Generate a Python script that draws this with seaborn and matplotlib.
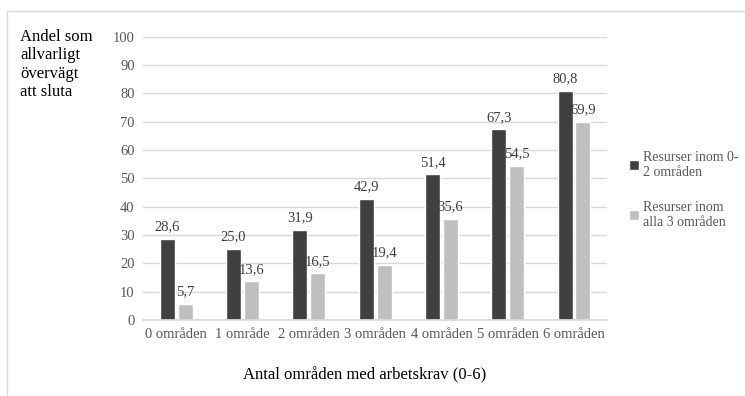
import matplotlib
matplotlib.use("Agg")
import matplotlib.pyplot as plt
import seaborn as sns
import pandas as pd
from matplotlib.patches import Rectangle

categories = ["0 områden", "1 område", "2 områden", "3 områden",
              "4 områden", "5 områden", "6 områden"]
series_names = ["Resurser inom 0-\n2 områden", "Resurser inom\nalla 3 områden"]
resurser_0_2 = [28.6, 25.0, 31.9, 42.9, 51.4, 67.3, 80.8]
resurser_alla_3 = [5.7, 13.6, 16.5, 19.4, 35.6, 54.5, 69.9]
y_ticks = [0, 10, 20, 30, 40, 50, 60, 70, 80, 90, 100]

df = pd.DataFrame({
    "kategori": categories * 2,
    "serie": [series_names[0]] * len(categories) + [series_names[1]] * len(categories),
    "andel": resurser_0_2 + resurser_alla_3,
})

sns.set_theme(style="white")
plt.rcParams["font.family"] = ["Liberation Serif", "DejaVu Serif"]

fig = plt.figure(figsize=(7.45, 3.96), dpi=100)
ax = fig.add_axes([0.192, 0.192, 0.623, 0.715])

# outer chart frame
fig.patches.append(Rectangle((7 / 745, -0.05), 1.1, 0.05 + 1 - 11 / 396,
                             transform=fig.transFigure, fill=False,
                             edgecolor="#d9d9d9", linewidth=1.0))

palette = {series_names[0]: "#404040", series_names[1]: "#bfbfbf"}
sns.barplot(data=df, x="kategori", y="andel", hue="serie", palette=palette,
            width=0.54, gap=0.16, ax=ax, saturation=1, legend=True)

for container in ax.containers:
    vals = container.datavalues
    ax.bar_label(container, labels=[f"{v:.1f}".replace(".", ",") for v in vals],
                 padding=4, fontsize=10.5, color="#404040")

ax.set_ylim(0, 100)
ax.set_yticks(y_ticks)
ax.yaxis.grid(True, color="#d9d9d9", linewidth=1.0)
ax.set_axisbelow(True)
for side in ["left", "right", "top"]:
    ax.spines[side].set_visible(False)
ax.spines["bottom"].set_color("#d9d9d9")
ax.tick_params(axis="both", length=0, labelsize=10.5, colors="#595959", pad=6)
ax.set_xlabel("Antal områden med arbetskrav (0-6)", fontsize=12, color="black")
ax.xaxis.set_label_coords(0.478, -0.165)
ax.set_ylabel("")

fig.text(20 / 745, 1 - 29 / 396, "Andel som\nallvarligt\növervägt\natt sluta",
         fontsize=12, color="black", va="top", ha="left", linespacing=1.2)

leg = ax.legend(loc="center left", bbox_to_anchor=(1.02, 0.46), frameon=False,
                fontsize=10, handlelength=0.7, handleheight=0.7, handletextpad=0.3,
                labelspacing=1.6, labelcolor="#595959")

fig.savefig("out.png", dpi=100)
